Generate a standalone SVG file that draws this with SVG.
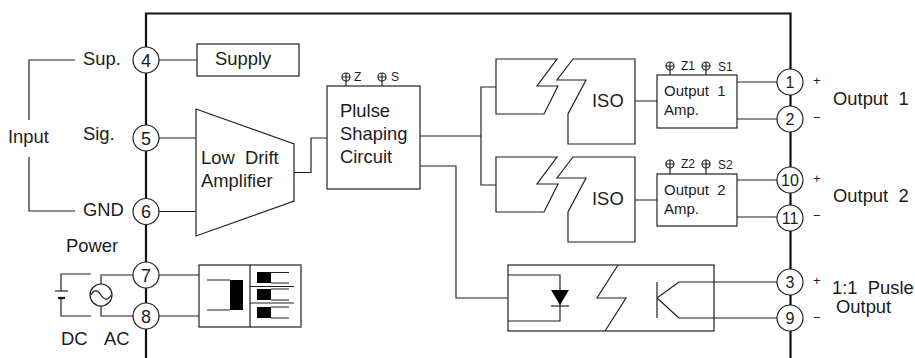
<svg xmlns="http://www.w3.org/2000/svg" width="915" height="358" viewBox="0 0 915 358">
<style>
text{font-family:"Liberation Sans",Arial,sans-serif;fill:#1c1c1c;font-size:16px}
.s{font-size:18.400px}
.a{font-size:15px}
.t{font-size:12px}
.p{font-size:13px}
.n{text-anchor:middle;font-size:18px}
.r{text-anchor:middle;font-size:16px;font-family:"Liberation Sans Narrow","Liberation Sans",sans-serif}
.l,.b,.pin{fill:none;stroke:#222;stroke-width:1.200}
.b{fill:#fff}
.pin{fill:#fff}
.f{fill:none;stroke:#111;stroke-width:2.200}
.k{fill:#000;stroke:none}
</style>
<g id="frame"><path class="f" d="M146 358V13.500H790.500V358"/></g>
<g id="connectors">
<path class="l" d="M75 60H29V120M29 157V211H75"/>
<path class="l" d="M159 60H197M159 138H196M159 211.500H196M159 275H199M159 316H199"/>
<path class="l" d="M133 275H101V284M101 306V316H133M91 274H61V291M61 298V316H91"/>
<path class="l" d="M294 172.500H311V138H327M420 136H481M496 87H481V185H496M420 166H456V298H508"/>
<path class="l" d="M635 101H657M635 200H657M737 82H777M737 119H777M737 180H777M737 217H777"/>
<path class="l" d="M679 282H777M679 318H777"/>
</g>
<g id="labels">
<text class="s" x="8" y="143">Input</text>
<text class="s" x="83" y="65">Sup.</text>
<text class="s" x="83" y="140">Sig.</text>
<text class="s" x="83" y="216">GND</text>
<text class="s" x="66" y="252">Power</text>
<text class="s" x="61" y="345">DC</text>
<text class="s" x="104" y="345">AC</text>
<text class="s" x="833" y="105" xml:space="preserve">Output  1</text>
<text class="s" x="833" y="202" xml:space="preserve">Output  2</text>
<text class="s" x="832" y="294" xml:space="preserve">1:1  Pusle</text>
<text class="s" x="836" y="313">Output</text>
<text class="p" x="813" y="85">+</text><text class="p" x="813" y="122">−</text>
<text class="p" x="813" y="183">+</text><text class="p" x="813" y="220">−</text>
<text class="p" x="813" y="285">+</text><text class="p" x="813" y="322">−</text>
</g>
<g id="pin4"><circle class="pin" cx="146" cy="60" r="13"/><text class="n" x="146" y="67">4</text></g>
<g id="pin5"><circle class="pin" cx="146" cy="138" r="13"/><text class="n" x="146" y="145">5</text></g>
<g id="pin6"><circle class="pin" cx="146" cy="211.500" r="13"/><text class="n" x="146" y="218">6</text></g>
<g id="pin7"><circle class="pin" cx="146" cy="275" r="13"/><text class="n" x="146" y="282">7</text></g>
<g id="pin8"><circle class="pin" cx="146" cy="316" r="13"/><text class="n" x="146" y="323">8</text></g>
<g id="pin1"><circle class="pin" cx="790" cy="82" r="13"/><text class="r" x="790" y="88">1</text></g>
<g id="pin2"><circle class="pin" cx="790" cy="119" r="13"/><text class="r" x="790" y="125">2</text></g>
<g id="pin10"><circle class="pin" cx="790" cy="180" r="13"/><text class="r" x="790" y="186">10</text></g>
<g id="pin11"><circle class="pin" cx="790" cy="218" r="13"/><text class="r" x="790" y="224">11</text></g>
<g id="pin3"><circle class="pin" cx="790" cy="282" r="13"/><text class="r" x="790" y="288">3</text></g>
<g id="pin9"><circle class="pin" cx="790" cy="318" r="13"/><text class="r" x="790" y="324">9</text></g>
<g id="supply"><rect class="b" x="197" y="44" width="102" height="32"/><text class="s" x="215" y="65">Supply</text></g>
<g id="amplifier"><path class="b" d="M196 109L294 144V201L196 236Z"/><text class="s" x="201" y="164" xml:space="preserve">Low  Drift</text><text class="s" x="201" y="187">Amplifier</text></g>
<g id="shaping">
<rect class="b" x="327" y="86" width="93" height="103"/>
<path class="l" d="M346 81V86M382 81V86"/>
<circle class="l" cx="346" cy="77" r="4"/><path class="l" d="M342 77H350M346 73V81"/>
<circle class="l" cx="382" cy="77" r="4"/><path class="l" d="M378 77H386M382 73V81"/>
<text class="t" x="354" y="81">Z</text><text class="t" x="391" y="81">S</text>
<text class="s" x="340" y="117">Plulse</text><text class="s" x="340" y="140">Shaping</text><text class="s" x="340" y="163">Circuit</text>
</g>
<g id="iso1">
<path class="b" d="M496 59H557L537 86H558L544 114H496Z"/>
<path class="b" d="M573 59L557 80H586L568 114V144H635V59Z"/>
<text class="s" x="592" y="107">ISO</text>
</g>
<g id="iso2">
<path class="b" d="M496 157H557L537 184H558L544 212H496Z"/>
<path class="b" d="M573 157L557 178H586L568 212V242H635V157Z"/>
<text class="s" x="592" y="205">ISO</text>
</g>
<g id="amp1">
<rect class="b" x="657" y="75" width="80" height="53"/>
<path class="l" d="M670 70V75M706 70V75"/>
<circle class="l" cx="670" cy="66" r="4"/><path class="l" d="M666 66H674M670 62V70"/>
<circle class="l" cx="706" cy="66" r="4"/><path class="l" d="M702 66H710M706 62V70"/>
<text class="t" x="681" y="70">Z1</text><text class="t" x="718" y="71">S1</text>
<text class="a" x="664" y="96" xml:space="preserve">Output  1</text><text class="a" x="664" y="115">Amp.</text>
</g>
<g id="amp2">
<rect class="b" x="657" y="174" width="80" height="52"/>
<path class="l" d="M670 168V174M706 168V174"/>
<circle class="l" cx="670" cy="164" r="4"/><path class="l" d="M666 164H674M670 160V168"/>
<circle class="l" cx="706" cy="164" r="4"/><path class="l" d="M702 164H710M706 160V168"/>
<text class="t" x="681" y="168">Z2</text><text class="t" x="718" y="169">S2</text>
<text class="a" x="664" y="195" xml:space="preserve">Output  2</text><text class="a" x="664" y="214">Amp.</text>
</g>
<g id="opto">
<rect class="b" x="508" y="265" width="206" height="66"/>
<path class="l" d="M508 275H560V321H508M618 265L597 298H626L605 331M657 282V318M679 282L657 298L679 318"/>
<path class="k" d="M551 290H569L560 305Z"/><path class="l" d="M551 306H569"/>
<path class="l" d="M679 282H714M679 318H714"/>
</g>
<g id="source">
<circle class="l" cx="101" cy="295" r="11"/>
<path class="l" d="M91 295C94 289 98 290 101 295S108 301 111 295"/>
<path class="l" d="M55 291H68"/><path d="M58 298H65" stroke="#111" stroke-width="2.200" fill="none"/>
</g>
<g id="transformer">
<rect class="b" x="199" y="265" width="102" height="62"/>
<path class="l" d="M250 265V327M207 280H230M207 310H230M250 286.500H294M250 303H294M271 272.500H289M271 283H289M271 289H289M271 300H289M271 307H289M271 318H289"/>
<rect class="k" x="230" y="280" width="13" height="30"/>
<rect class="k" x="257" y="272" width="14" height="11"/>
<rect class="k" x="257" y="289" width="14" height="11"/>
<rect class="k" x="257" y="307" width="14" height="11"/>
</g>
</svg>
